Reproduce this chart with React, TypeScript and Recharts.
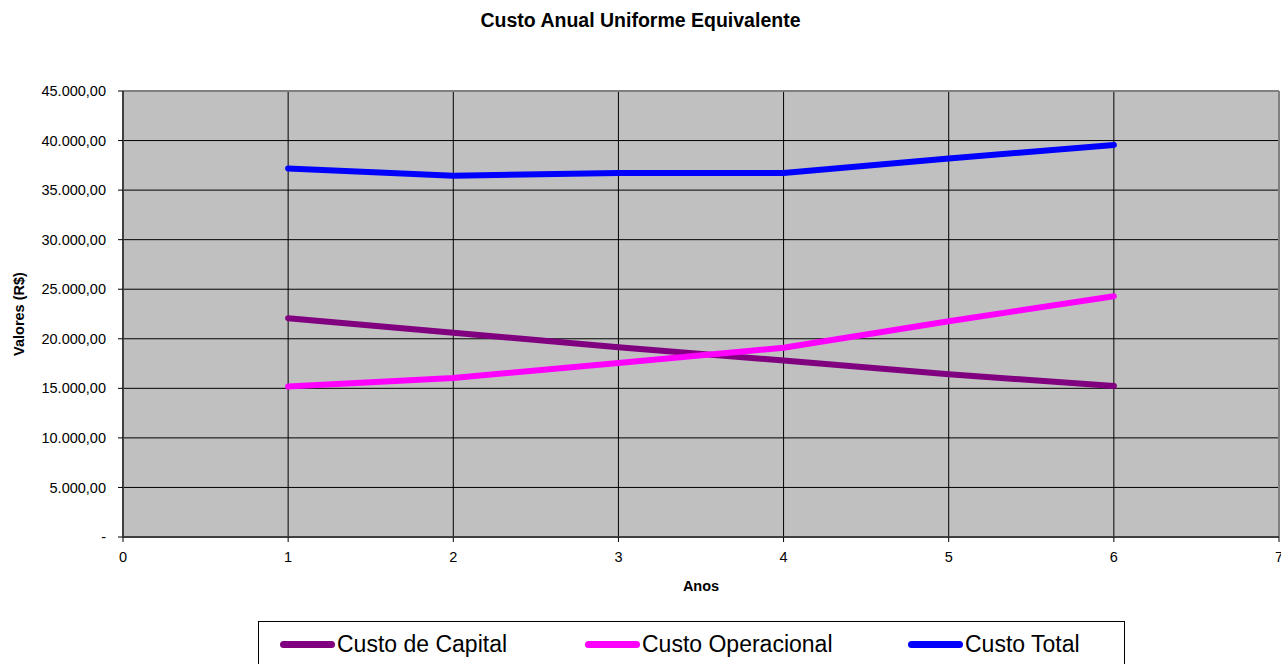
import React from 'react'
import { LineChart, Line, XAxis, YAxis, CartesianGrid, ReferenceLine } from 'recharts'

// 年份与三条成本序列（从原图读数估计）
const anos = [1, 2, 3, 4, 5, 6]
const custoCapital = [22080, 20600, 19150, 17800, 16420, 15240]
const custoOperacional = [15180, 16050, 17560, 19100, 21760, 24300]
const custoTotal = [37180, 36450, 36720, 36720, 38200, 39560]

const xTicks = [0, 1, 2, 3, 4, 5, 6, 7]
const yTicks = [0, 5000, 10000, 15000, 20000, 25000, 30000, 35000, 40000, 45000]

const series = [
  { key: 'capital', name: 'Custo de Capital', color: '#800080' },
  { key: 'operacional', name: 'Custo Operacional', color: '#ff00ff' },
  { key: 'total', name: 'Custo Total', color: '#0000ff' },
]

const data = anos.map((a, i) => ({
  ano: a,
  capital: custoCapital[i],
  operacional: custoOperacional[i],
  total: custoTotal[i],
}))

const FONT = '"Liberation Sans", Arial, sans-serif'

// 45000 -> "45.000,00"，0 显示成 "-"
function formatBR(v: number): string {
  if (v === 0) return '-'
  const s = Math.round(v).toString().replace(/\B(?=(\d{3})+(?!\d))/g, '.')
  return `${s},00`
}

export default function App() {
  return (
    <div style={{ position: 'absolute', left: 0, top: 0, width: 1281, height: 664, background: '#fff', fontFamily: FONT, overflow: 'hidden' }}>
      <div style={{ position: 'absolute', left: 0, top: 8, width: 1281, textAlign: 'center', fontWeight: 'bold', fontSize: 19.5, lineHeight: '24px' }}>
        Custo Anual Uniforme Equivalente
      </div>
      <LineChart width={1281} height={664} data={data} margin={{ top: 91, right: 2, bottom: 67, left: 0 }}>
        <CartesianGrid stroke="#000" fill="#c0c0c0" fillOpacity={1} />
        <XAxis
          dataKey="ano"
          type="number"
          domain={[0, 7]}
          ticks={xTicks}
          height={60}
          interval={0}
          tickSize={5}
          tickMargin={10}
          tick={{ fontSize: 14.5, fill: '#000', fontFamily: FONT }}
          axisLine={{ stroke: '#404040', strokeWidth: 2 }}
          tickLine={{ stroke: '#000' }}
          label={{ value: 'Anos', position: 'insideBottom', offset: 6, style: { fontSize: 14.5, fontWeight: 'bold', fill: '#000', fontFamily: FONT } }}
        />
        <YAxis
          type="number"
          domain={[0, 45000]}
          ticks={yTicks}
          width={123}
          interval={0}
          tickSize={5}
          tickMargin={12}
          tickFormatter={formatBR}
          tick={{ fontSize: 14.5, fill: '#000', fontFamily: FONT }}
          axisLine={{ stroke: '#404040', strokeWidth: 2 }}
          tickLine={{ stroke: '#000' }}
          label={{ value: 'Valores (R$)', angle: -90, position: 'insideLeft', offset: 19, style: { fontSize: 14.5, fontWeight: 'bold', fill: '#000', fontFamily: FONT, textAnchor: 'middle' } }}
        />
        <ReferenceLine y={45000} stroke="#808080" strokeWidth={2} />
        <ReferenceLine x={7} stroke="#808080" strokeWidth={2} />
        {series.map(s => (
          <Line
            key={s.key}
            type="linear"
            dataKey={s.key}
            name={s.name}
            stroke={s.color}
            strokeWidth={6}
            strokeLinecap="round"
            strokeLinejoin="round"
            dot={false}
            activeDot={false}
            isAnimationActive={false}
          />
        ))}
      </LineChart>
      {/* 图例：Excel 风格的外框 */}
      <div style={{ position: 'absolute', left: 258, top: 621, width: 867, height: 60, border: '1px solid #000', boxSizing: 'border-box' }}>
        {series.map((s, i) => (
          <div key={s.key} style={{ position: 'absolute', left: [21, 326, 649][i], top: 9, display: 'flex', alignItems: 'flex-start', fontSize: 23, lineHeight: '26px', color: '#000', whiteSpace: 'nowrap' }}>
            <span style={{ display: 'inline-block', width: 55, height: 7, borderRadius: 3.5, background: s.color, marginTop: 10, marginRight: 2 }} />
            {s.name}
          </div>
        ))}
      </div>
    </div>
  )
}
